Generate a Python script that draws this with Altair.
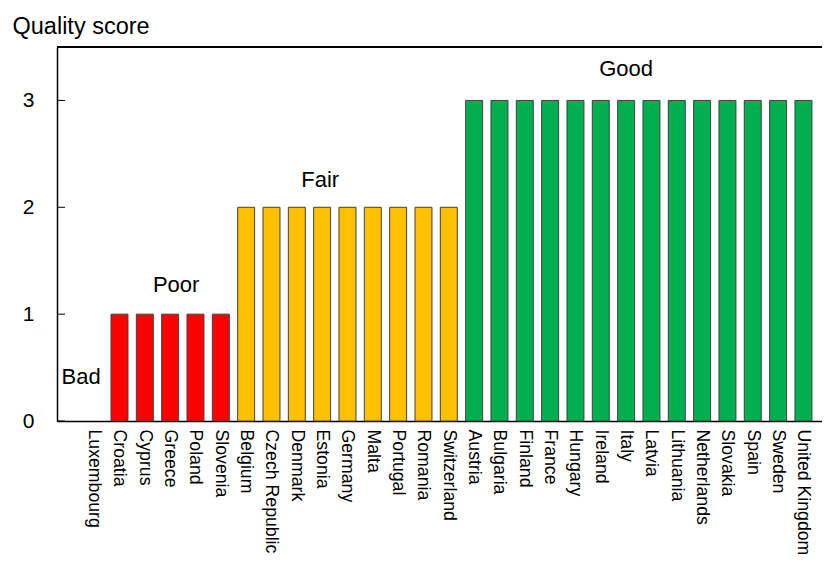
import altair as alt
import pandas as pd

countries = ["Luxembourg", "Croatia", "Cyprus", "Greece", "Poland", "Slovenia",
             "Belgium", "Czech Republic", "Denmark", "Estonia", "Germany", "Malta",
             "Portugal", "Romania", "Switzerland", "Austria", "Bulgaria", "Finland",
             "France", "Hungary", "Ireland", "Italy", "Latvia", "Lithuania",
             "Netherlands", "Slovakia", "Spain", "Sweden", "United Kingdom"]
scores = [0, 1, 1, 1, 1, 1,
          2, 2, 2, 2, 2, 2, 2, 2, 2,
          3, 3, 3, 3, 3, 3, 3, 3, 3, 3, 3, 3, 3, 3]
quality_names = ["Bad", "Poor", "Fair", "Good"]
quality_colors = ["#FFFFFF", "#FF0000", "#FFC000", "#00B050"]

ann_text = ["Bad", "Poor", "Fair", "Good"]
ann_country = ["Luxembourg", "Greece", "Estonia", "Italy"]
ann_y = [0.35, 1.21, 2.19, 3.23]
ann_dx = [-13, 6, -2, 0]

y_ticks = [0, 1, 2, 3]

W, H = 765, 374
FONT = "Liberation Sans"

bars_df = pd.DataFrame({
    "country": countries,
    "score": scores,
    "quality": [quality_names[s] for s in scores],
})
ann_df = pd.DataFrame({"text": ann_text, "country": ann_country, "score": ann_y, "dx": ann_dx})
ticks_df = pd.DataFrame({"score": y_ticks})

xscale = alt.Scale(domain=countries, paddingInner=0.33, paddingOuter=0.765, align=0.74)
yscale = alt.Scale(domain=[0, 3.5], nice=False)

xaxis = alt.Axis(title=None, labelAngle=90, labelFontSize=17.7, labelPadding=8,
                 labelColor="black", labelFont=FONT, ticks=False, tickSize=0,
                 domainColor="black", domainWidth=1.5, grid=False,
                 labelOverlap=False, labelLimit=300)
yaxis = alt.Axis(values=y_ticks, title="Quality score", titleAngle=0,
                 titleAlign="left", titleBaseline="alphabetic",
                 titleX=-45, titleY=-14, titleFontSize=23.5,
                 titleFontWeight="normal", titleColor="black", titleFont=FONT,
                 labelFontSize=21, labelColor="black", labelFont=FONT,
                 labelPadding=23, ticks=False, tickSize=0, grid=False,
                 domainColor="black", domainWidth=1.5)

X = alt.X("country:N", scale=xscale, sort=countries, axis=xaxis, title=None)
Y = alt.Y("score:Q", scale=yscale, axis=yaxis, title="Quality score")

bars = alt.Chart(bars_df).mark_bar(stroke="#404040", strokeWidth=1).encode(
    x=X,
    y=Y,
    color=alt.Color("quality:N", scale=alt.Scale(domain=quality_names, range=quality_colors),
                    legend=None),
    strokeOpacity=alt.condition(alt.datum.score > 0, alt.value(1), alt.value(0)),
)

inner_ticks = alt.Chart(ticks_df).mark_rule(color="black", strokeWidth=1).encode(
    y=Y,
    x=alt.value(0),
    x2=alt.value(8),
)

top_border = alt.Chart(ticks_df).mark_rule(color="black", strokeWidth=1.5).encode(
    y=alt.value(0),
    x=alt.value(0),
    x2=alt.value(W),
)

ann_layers = []
for t, d in zip(ann_text, ann_dx):
    sub = ann_df[ann_df["text"] == t]
    ann_layers.append(
        alt.Chart(sub).mark_text(fontSize=22, font=FONT, color="black",
                                 baseline="alphabetic", align="center", dx=d).encode(
            x=X,
            y=Y,
            text="text:N",
        )
    )

chart = alt.layer(bars, inner_ticks, top_border, *ann_layers).properties(
    width=W, height=H,
    autosize=alt.AutoSizeParams(type="none"),
    padding={"left": 49, "top": 39, "right": 0, "bottom": 136},
).configure_view(stroke=None).configure(font=FONT)

chart.save("out.html", embed_options={"renderer": "svg", "actions": False})
